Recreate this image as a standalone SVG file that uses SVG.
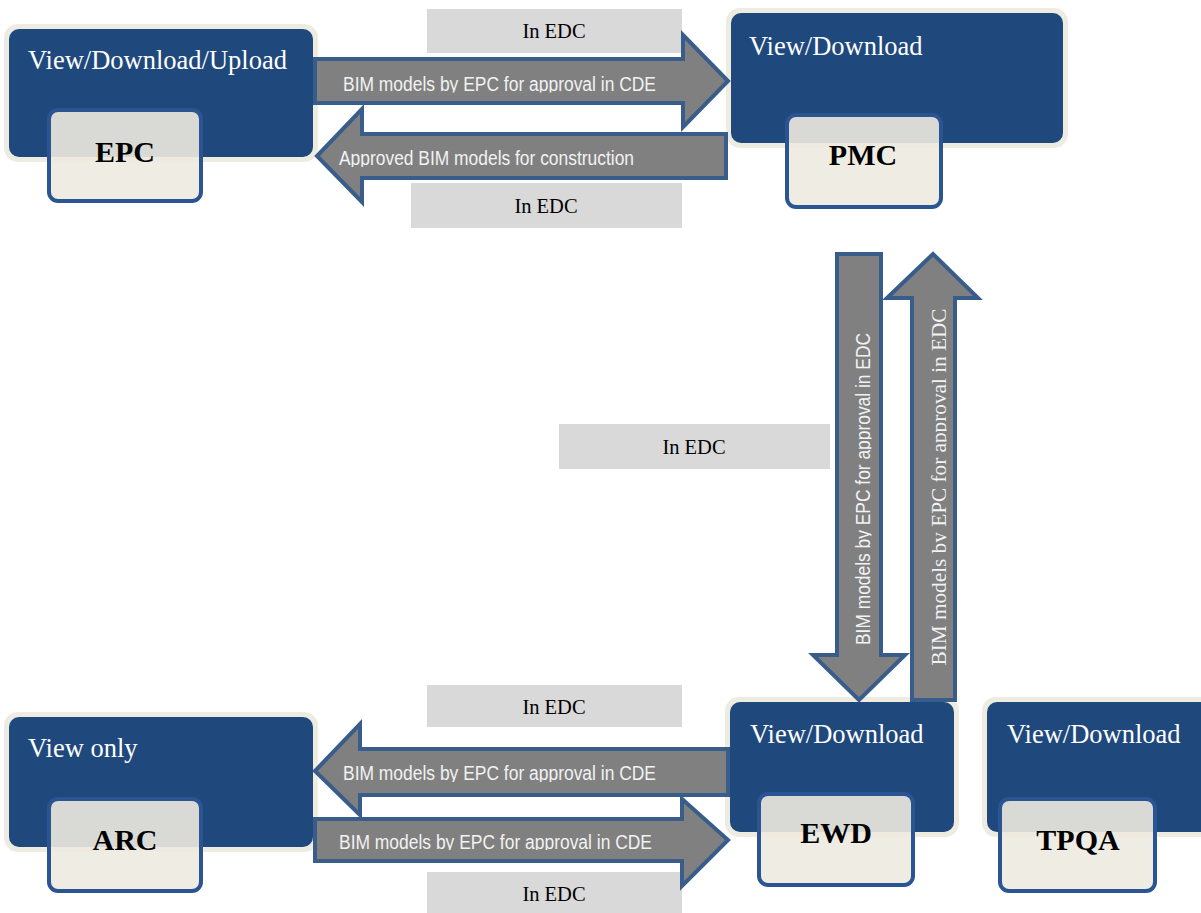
<svg xmlns="http://www.w3.org/2000/svg" width="1201" height="913" viewBox="0 0 1201 913">
<style>
.ring{fill:#eeece1}
.panel{fill:#1f497d}
.card{fill:#edeae0;fill-opacity:0.9;stroke:#2a5592;stroke-width:4}
.role{font-family:"Liberation Serif","Times New Roman",serif;font-size:26.5px;fill:#ffffff}
.name{font-family:"Liberation Serif","Times New Roman",serif;font-size:30px;font-weight:bold;fill:#000000;text-anchor:middle}
.arrow{fill:#808080;stroke:#385d8a;stroke-width:4;stroke-linejoin:miter}
.atext{font-family:"Liberation Sans",Arial,sans-serif;font-size:20px;fill:#f2f2f2}
.stext{font-family:"Liberation Serif","Times New Roman",serif;font-size:21.5px;fill:#f2f2f2}
.lbox{fill:#d9d9d9}
.ltext{font-family:"Liberation Serif","Times New Roman",serif;font-size:20.5px;fill:#000000;text-anchor:middle}
</style>
<defs>
<clipPath id="c1"><rect x="315" y="59" width="368" height="33.5"/></clipPath>
<clipPath id="c2"><rect x="330" y="134" width="396" height="33"/></clipPath>
<clipPath id="c3"><rect x="330" y="749" width="396" height="33"/></clipPath>
<clipPath id="c4"><rect x="315" y="819" width="367" height="31"/></clipPath>
<clipPath id="c5"><rect x="837" y="254" width="34.5" height="445"/></clipPath>
<clipPath id="c6"><rect x="912" y="298" width="34.5" height="400"/></clipPath>
</defs>

<g id="node-epc">
<rect class="ring" x="4" y="24" width="314" height="138" rx="14"/>
<rect class="panel" x="9" y="29" width="304" height="128" rx="10"/>
<text class="role" x="28" y="69">View/Download/Upload</text>
<rect class="card" x="49" y="110" width="152" height="91" rx="9"/>
<text class="name" x="125" y="162">EPC</text>
</g>

<g id="node-pmc">
<rect class="ring" x="726" y="8" width="342" height="140" rx="14"/>
<rect class="panel" x="731" y="13" width="332" height="130" rx="10"/>
<text class="role" x="749" y="55">View/Download</text>
<rect class="card" x="787" y="115" width="154" height="92" rx="9"/>
<text class="name" x="863" y="165">PMC</text>
</g>

<g id="node-arc">
<rect class="ring" x="4" y="712" width="314" height="140" rx="14"/>
<rect class="panel" x="9" y="717" width="304" height="130" rx="10"/>
<text class="role" x="28" y="757">View only</text>
<rect class="card" x="49" y="799" width="152" height="92" rx="9"/>
<text class="name" x="125" y="850">ARC</text>
</g>

<g id="node-ewd">
<rect class="ring" x="725" y="697" width="234" height="140" rx="14"/>
<rect class="panel" x="730" y="702" width="224" height="130" rx="10"/>
<text class="role" x="750" y="743">View/Download</text>
<rect class="card" x="759" y="794" width="154" height="91" rx="9"/>
<text class="name" x="836" y="843">EWD</text>
</g>

<g id="node-tpqa">
<rect class="ring" x="982" y="697" width="240" height="140" rx="14"/>
<rect class="panel" x="987" y="702" width="230" height="130" rx="10"/>
<text class="role" x="1007" y="743">View/Download</text>
<rect class="card" x="1000" y="799" width="155" height="92" rx="9"/>
<text class="name" x="1078" y="850">TPQA</text>
</g>

<g id="connectors">
<g id="epc-to-pmc">
<rect class="lbox" x="427" y="9" width="255" height="44"/>
<text class="ltext" x="554" y="38">In EDC</text>
<path class="arrow" d="M315,59 H683 V35 L728,81 L683,127 V103 H315 Z"/>
<g clip-path="url(#c1)"><text class="atext" x="343" y="90.5" textLength="313" lengthAdjust="spacingAndGlyphs">BIM models by EPC for approval in CDE</text></g>
</g>
<g id="pmc-to-epc">
<rect class="lbox" x="411" y="183" width="271" height="45"/>
<text class="ltext" x="546" y="213">In EDC</text>
<path class="arrow" d="M726,134 V178 H362 V202 L317,156 L362,109 V134 Z"/>
<g clip-path="url(#c2)"><text class="atext" x="339" y="165" textLength="295" lengthAdjust="spacingAndGlyphs">Approved BIM models for construction</text></g>
</g>
<g id="pmc-to-ewd">
<path class="arrow" d="M837,254 H881 V655 H905 L859,700 L813,655 H837 Z"/>
<g clip-path="url(#c5)"><text class="atext" transform="translate(870,489) rotate(-90)" x="0" y="0" text-anchor="middle" textLength="312" lengthAdjust="spacingAndGlyphs">BIM models by EPC for approval in EDC</text></g>
</g>
<g id="ewd-to-pmc">
<rect class="lbox" x="559" y="424" width="271" height="45"/>
<text class="ltext" x="694" y="454">In EDC</text>
<path class="arrow" d="M912,700 V298 H887 L933,254 L978,298 H955 V700 Z"/>
<g clip-path="url(#c6)"><text class="stext" transform="translate(945.5,487) rotate(-90)" x="0" y="0" text-anchor="middle" textLength="357" lengthAdjust="spacingAndGlyphs">BIM models by EPC for approval in EDC</text></g>
</g>
<g id="ewd-to-arc">
<rect class="lbox" x="427" y="685" width="255" height="42"/>
<text class="ltext" x="554" y="714">In EDC</text>
<path class="arrow" d="M728,749 V795 H360 V815 L315,771 L360,724 V749 Z"/>
<g clip-path="url(#c3)"><text class="atext" x="343" y="780" textLength="313" lengthAdjust="spacingAndGlyphs">BIM models by EPC for approval in CDE</text></g>
</g>
<g id="arc-to-ewd">
<rect class="lbox" x="427" y="872" width="255" height="41"/>
<text class="ltext" x="554" y="901">In EDC</text>
<path class="arrow" d="M315,819 H682 V799 L728,840 L682,886 V861 H315 Z"/>
<g clip-path="url(#c4)"><text class="atext" x="339" y="848.5" textLength="313" lengthAdjust="spacingAndGlyphs">BIM models by EPC for approval in CDE</text></g>
</g>
</g>
</svg>
